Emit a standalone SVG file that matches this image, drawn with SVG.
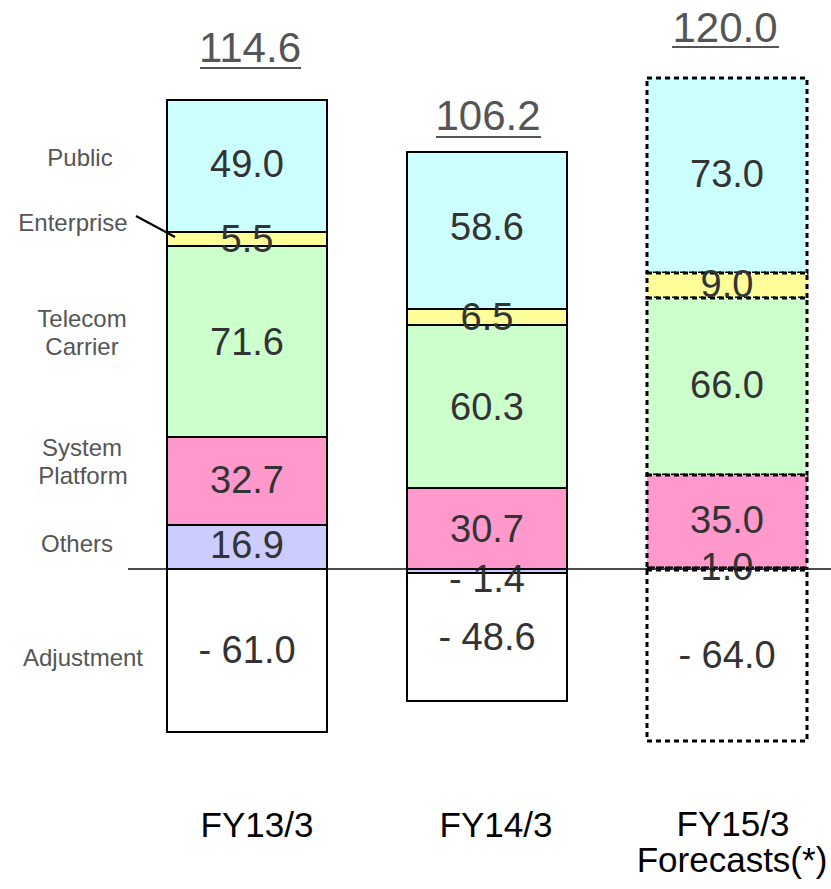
<svg xmlns="http://www.w3.org/2000/svg" width="831" height="889" viewBox="0 0 831 889">
  <style>
    .seg { stroke: #000; stroke-width: 2; }
    .fc { stroke: #000; stroke-width: 3; stroke-dasharray: 5 4; }
    .pub { fill: #CCFFFF; }
    .ent { fill: #FFFF99; }
    .tel { fill: #CCFFCC; }
    .sys { fill: #FF99CC; }
    .oth { fill: #CCCCFF; }
    .adj { fill: #FFFFFF; }
    .val { font-family: "Liberation Sans", Arial, sans-serif; font-size: 38px; fill: #333333; text-anchor: middle; }
    .tot { font-family: "Liberation Sans", Arial, sans-serif; font-size: 42px; fill: #555555; text-anchor: middle; }
    .uline { stroke: #555555; stroke-width: 2; }
    .lab { font-family: "Liberation Sans", Arial, sans-serif; font-size: 24px; fill: #555555; text-anchor: middle; }
    .fy { font-family: "Liberation Sans", Arial, sans-serif; font-size: 35px; fill: #000000; text-anchor: middle; }
  </style>

  <!-- segment names on the left -->
  <g id="legend">
    <text class="lab" x="80" y="166">Public</text>
    <text class="lab" x="73" y="231">Enterprise</text>
    <text class="lab" x="82" y="327">Telecom</text>
    <text class="lab" x="82" y="355">Carrier</text>
    <text class="lab" x="82" y="456">System</text>
    <text class="lab" x="83" y="484">Platform</text>
    <text class="lab" x="77" y="552">Others</text>
    <text class="lab" x="83" y="666">Adjustment</text>
  </g>

  <!-- FY13/3 -->
  <g id="bar-fy13">
    <rect class="seg pub" x="167" y="100" width="160" height="132"/>
    <rect class="seg ent" x="167" y="232" width="160" height="14"/>
    <rect class="seg tel" x="167" y="246" width="160" height="191"/>
    <rect class="seg sys" x="167" y="437" width="160" height="88"/>
    <rect class="seg oth" x="167" y="525" width="160" height="44"/>
    <rect class="seg adj" x="167" y="569" width="160" height="163"/>
    <text class="val" x="247" y="177">49.0</text>
    <text class="val" x="247" y="252">5.5</text>
    <text class="val" x="247" y="355">71.6</text>
    <text class="val" x="247" y="493">32.7</text>
    <text class="val" x="247" y="558">16.9</text>
    <text class="val" x="247" y="663">- 61.0</text>
    <text class="tot" x="250" y="62">114.6</text>
    <line class="uline" x1="200" y1="68" x2="301" y2="68"/>
    <text class="fy" x="257" y="837">FY13/3</text>
  </g>

  <!-- FY14/3 -->
  <g id="bar-fy14">
    <rect class="seg pub" x="407" y="152" width="160" height="157"/>
    <rect class="seg ent" x="407" y="309" width="160" height="16"/>
    <rect class="seg tel" x="407" y="325" width="160" height="163"/>
    <rect class="seg sys" x="407" y="488" width="160" height="81"/>
    <rect class="seg oth" x="407" y="569" width="160" height="4"/>
    <rect class="seg adj" x="407" y="573" width="160" height="128"/>
    <text class="val" x="487" y="240">58.6</text>
    <text class="val" x="487" y="330">6.5</text>
    <text class="val" x="487" y="420">60.3</text>
    <text class="val" x="487" y="542">30.7</text>
    <text class="val" x="487" y="592">- 1.4</text>
    <text class="val" x="487" y="650">- 48.6</text>
    <text class="tot" x="488" y="130">106.2</text>
    <line class="uline" x1="436" y1="137" x2="541" y2="137"/>
    <text class="fy" x="496" y="837">FY14/3</text>
  </g>

  <!-- FY15/3 forecast, dashed outlines -->
  <g id="bar-fy15">
    <rect class="fc pub" x="647" y="78" width="160" height="195"/>
    <rect class="fc ent" x="647" y="273" width="160" height="25"/>
    <rect class="fc tel" x="647" y="298" width="160" height="177"/>
    <rect class="fc sys" x="647" y="475" width="160" height="93"/>
    <rect class="fc oth" x="647" y="568" width="160" height="2"/>
    <rect class="fc adj" x="647" y="570" width="160" height="171"/>
    <text class="val" x="727" y="187">73.0</text>
    <text class="val" x="727" y="297">9.0</text>
    <text class="val" x="727" y="398">66.0</text>
    <text class="val" x="727" y="533">35.0</text>
    <text class="val" x="727" y="580">1.0</text>
    <text class="val" x="727" y="668">- 64.0</text>
    <text class="tot" x="725" y="42">120.0</text>
    <line class="uline" x1="672" y1="47" x2="779" y2="47"/>
    <text class="fy" x="733" y="836">FY15/3</text>
    <text class="fy" x="732" y="872">Forecasts(*)</text>
  </g>

  <!-- zero line and Enterprise leader -->
  <g id="connectors">
    <line x1="128" y1="569" x2="831" y2="569" stroke="#111" stroke-width="1.5"/>
    <line x1="136" y1="216" x2="175" y2="237" stroke="#000" stroke-width="2"/>
  </g>
</svg>
